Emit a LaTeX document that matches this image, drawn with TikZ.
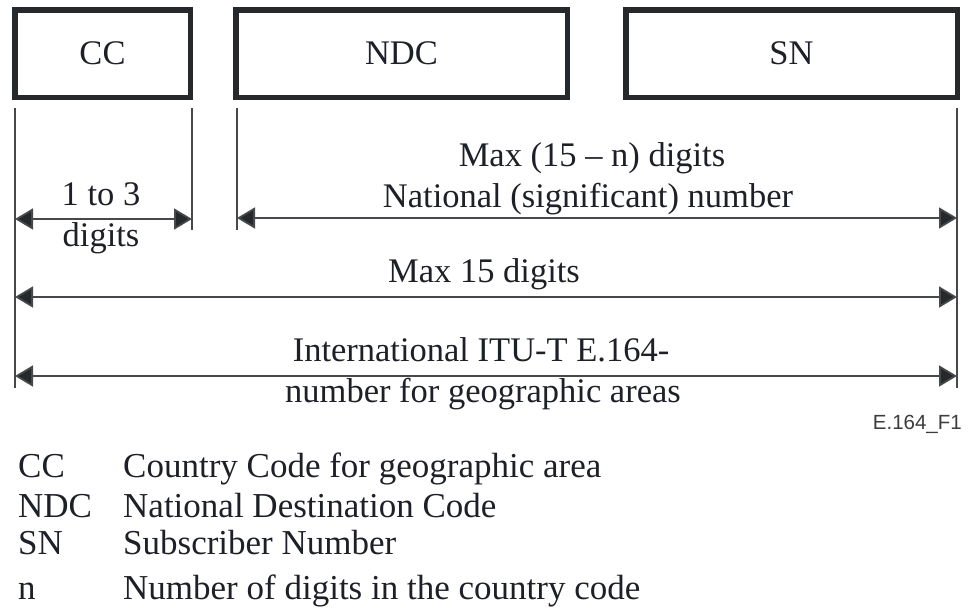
\documentclass[tikz,border=0pt]{standalone}
\usepackage{fontspec}
\setmainfont{Liberation Serif}
\newfontfamily\labelsans{Liberation Sans}
\usetikzlibrary{arrows.meta}
\definecolor{ink}{RGB}{30,32,40}
\definecolor{boxline}{RGB}{38,41,44}
\definecolor{guide}{RGB}{70,72,76}
\definecolor{tagcol}{RGB}{60,60,60}
\tikzset{
  fieldbox/.style={draw=boxline, line width=5.5pt, minimum height=87.5pt, inner sep=0pt, text=ink,
    font=\fontsize{34.5}{40}\selectfont},
  guideline/.style={draw=guide, line width=1.8pt},
  dimarrow/.style={draw=guide, line width=1.8pt, {Triangle[length=18pt,width=21pt,fill=boxline]}-{Triangle[length=18pt,width=21pt,fill=boxline]}},
  lbl/.style={anchor=base, inner sep=0pt, text=ink, font=\fontsize{34.5}{40}\selectfont},
  leg/.style={anchor=base west, inner sep=0pt, text=ink, font=\fontsize{35}{40}\selectfont},
  tag/.style={anchor=base east, inner sep=0pt, text=tagcol, font=\labelsans\fontsize{20.5}{24}\selectfont}
}
\begin{document}
\begin{tikzpicture}[x=1pt,y=-1pt]
\useasboundingbox (0,0) rectangle (968,611);
% boxes
\node[fieldbox, minimum width=175.5pt] (cc) at (102.5,53.5) {CC};
\node[fieldbox, minimum width=331.5pt] (ndc) at (401.5,53.5) {NDC};
\node[fieldbox, minimum width=331.5pt] (sn) at (791.5,53.5) {SN};
% guide lines
\coordinate (ccLt) at (15,108);  \coordinate (ccLb) at (15,388);
\coordinate (ccRt) at (192,108); \coordinate (ccRb) at (192,230);
\coordinate (ndcLt) at (237,108); \coordinate (ndcLb) at (237,230);
\coordinate (snRt) at (957,108); \coordinate (snRb) at (957,388);
\draw[guideline] (ccLt) -- (ccLb);
\draw[guideline] (ccRt) -- (ccRb);
\draw[guideline] (ndcLt) -- (ndcLb);
\draw[guideline] (snRt) -- (snRb);
% arrow end points
\coordinate (a1l) at (15,219);  \coordinate (a1r) at (192,219);
\coordinate (a2l) at (237,218); \coordinate (a2r) at (957,218);
\coordinate (a3l) at (15,297);  \coordinate (a3r) at (957,297);
\coordinate (a4l) at (15,376);  \coordinate (a4r) at (957,376);
\draw[dimarrow] (a1l) -- (a1r);
\draw[dimarrow] (a2l) -- (a2r);
\draw[dimarrow] (a3l) -- (a3r);
\draw[dimarrow] (a4l) -- (a4r);
% labels
\node[lbl] (t1a) at (101,205) {1 to 3};
\node[lbl] (t1b) at (101,246) {digits};
\node[lbl] (t2a) at (592,166) {Max (15 \textendash{} n) digits};
\node[lbl] (t2b) at (588,207) {National (significant) number};
\node[lbl] (t3) at (484,282) {Max 15 digits};
\node[lbl] (t4a) at (481,361) {International ITU-T E.164-};
\node[lbl] (t4b) at (483,402) {number for geographic areas};
\node[tag] (fig) at (962,429) {E.164\_F1};
% legend
\node[leg] (k1) at (18,477) {CC};
\node[leg] (v1) at (123,477) {Country Code for geographic area};
\node[leg] (k2) at (18,517) {NDC};
\node[leg] (v2) at (123,517) {National Destination Code};
\node[leg] (k3) at (18,554) {SN};
\node[leg] (v3) at (123,554) {Subscriber Number};
\node[leg] (k4) at (18,599) {n};
\node[leg] (v4) at (123,599) {Number of digits in the country code};
\end{tikzpicture}
\end{document}
